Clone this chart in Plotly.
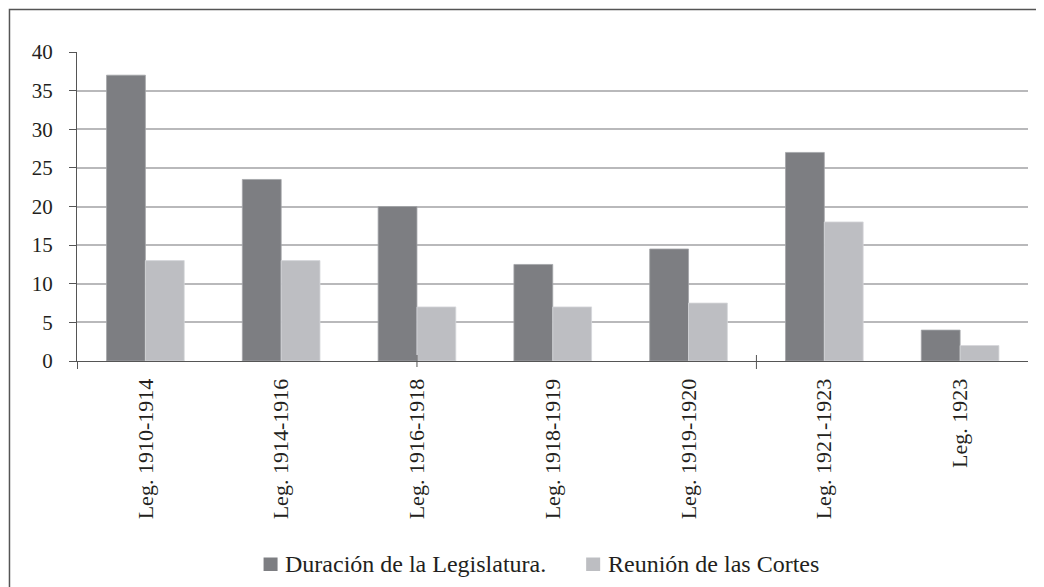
import plotly.graph_objects as go

legislaturas = ['Leg. 1910-1914', 'Leg. 1914-1916', 'Leg. 1916-1918', 'Leg. 1918-1919',
                'Leg. 1919-1920', 'Leg. 1921-1923', 'Leg. 1923']
duracion = [37, 23.5, 20, 12.5, 14.5, 27, 4]
reunion = [13, 13, 7, 7, 7.5, 18, 2]

serie_duracion = 'Duración de la Legislatura.'
serie_reunion = 'Reunión de las Cortes'

oscuro = '#7d7e82'
claro = '#bdbec2'
texto = '#231f20'
eje = '#555555'
fuente = "'Liberation Serif', 'DejaVu Serif', serif"

# the page puts the figure 8px in from the top-left corner
off = 8
W, H = 1044 - off, 587 - off
# plot area in page pixels: x 77..1027.7, y 52..361
ml, mr, mt, mb = 77 - off, W - (1027.7 - off), 52 - off, H - (361 - off)
pw, ph = W - ml - mr, H - mt - mb


def px(x):
    # page pixel -> paper x
    return (x - off - ml) / pw


def py(y):
    # page pixel -> paper y
    return (H - mb - (y - off)) / ph


fig = go.Figure()
fig.add_trace(go.Bar(x=legislaturas, y=duracion, name=serie_duracion,
                     marker=dict(color=oscuro, line=dict(color='#a3a4a8', width=0.8)),
                     showlegend=False))
fig.add_trace(go.Bar(x=legislaturas, y=reunion, name=serie_reunion,
                     marker=dict(color=claro, line=dict(color='#d6d7da', width=0.8)),
                     showlegend=False))

shapes = [
    # outer frame (cut at right and bottom, as in the scan)
    dict(type='rect', xref='paper', yref='paper', x0=px(9.5), x1=px(1060), y0=py(600), y1=py(9.5),
         line=dict(color=eje, width=1.5), layer='below'),
    # small ticks on the category axis
    dict(type='line', xref='x', yref='paper', x0=-0.5, x1=-0.5, y0=0, y1=py(369), line=dict(color=eje, width=1)),
    dict(type='line', xref='x', yref='paper', x0=2, x1=2, y0=py(355), y1=py(367), line=dict(color=eje, width=1)),
    dict(type='line', xref='x', yref='paper', x0=4.5, x1=4.5, y0=py(355), y1=py(369), line=dict(color=eje, width=1)),
    # legend swatches
    dict(type='rect', xref='paper', yref='paper', x0=px(263.5), x1=px(277.5), y0=py(571), y1=py(557.5),
         fillcolor=oscuro, line=dict(width=0)),
    dict(type='rect', xref='paper', yref='paper', x0=px(586), x1=px(600), y0=py(571), y1=py(557.5),
         fillcolor=claro, line=dict(width=0)),
]

annotations = [
    dict(text=serie_duracion, xref='paper', yref='paper', x=px(283), y=py(564),
         xanchor='left', yanchor='middle', showarrow=False,
         font=dict(family=fuente, size=24, color=texto)),
    dict(text=serie_reunion, xref='paper', yref='paper', x=px(606), y=py(564),
         xanchor='left', yanchor='middle', showarrow=False,
         font=dict(family=fuente, size=24, color=texto)),
]

fig.update_layout(
    width=W, height=H,
    margin=dict(l=ml, r=mr, t=mt, b=mb),
    barmode='group', bargap=0.428, bargroupgap=0,
    plot_bgcolor='white', paper_bgcolor='white',
    font=dict(family=fuente, color=texto, size=21),
    showlegend=False,
    shapes=shapes,
    annotations=annotations,
    xaxis=dict(showline=True, linecolor=eje, linewidth=1, ticks='', tickangle=-90,
               tickfont=dict(family=fuente, size=22, color=texto), showgrid=False,
               ticklabelstandoff=8),
    yaxis=dict(range=[0, 40], dtick=5, showline=True, linecolor=eje, linewidth=1,
               ticks='outside', ticklen=7, tickcolor=eje, tickwidth=1,
               showgrid=True, gridcolor='#b9b9bb', gridwidth=1.5, zeroline=False,
               tickfont=dict(family=fuente, size=21, color=texto), ticklabelstandoff=12),
)

fig.write_html('out.html')
